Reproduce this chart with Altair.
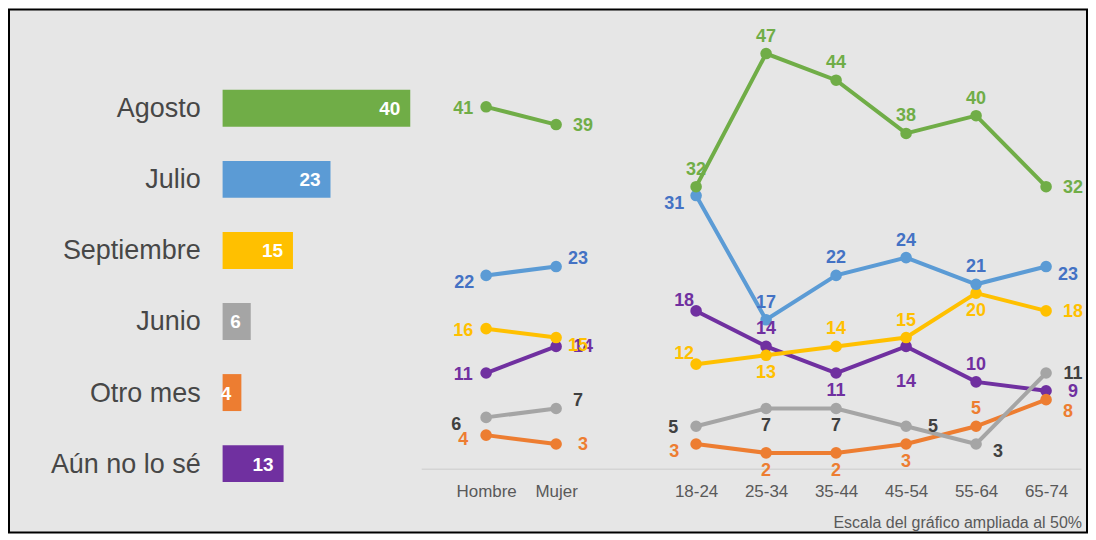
import altair as alt
import pandas as pd

# ---------------- data ----------------
series = ["Agosto", "Julio", "Septiembre", "Junio", "Otro mes", "Aún no lo sé"]
bar_values = [40, 23, 15, 6, 4, 13]

gender_cats = ["Hombre", "Mujer"]
age_cats = ["18-24", "25-34", "35-44", "45-54", "55-64", "65-74"]

gender_agosto = [41, 39]
gender_julio = [22, 23]
gender_septiembre = [16, 15]
gender_junio = [6, 7]
gender_otro = [4, 3]
gender_aun = [11, 14]

age_agosto = [32, 47, 44, 38, 40, 32]
age_julio = [31, 17, 22, 24, 21, 23]
age_septiembre = [12, 13, 14, 15, 20, 18]
age_junio = [5, 7, 7, 5, 3, 11]
age_otro = [3, 2, 2, 3, 5, 8]
age_aun = [18, 14, 11, 14, 10, 9]

footer = "Escala del gráfico ampliada al 50%"

# ---------------- styles / label placement ----------------
line_colors = ["#70AD47", "#5B9BD5", "#FFC000", "#A5A5A5", "#ED7D31", "#7030A0"]
label_colors = ["#70AD47", "#4472C4", "#FFC000", "#404040", "#ED7D31", "#7030A0"]

gender_place = [["L", "R"], ["LB", "RA"], ["L", "RB"], ["LB2", "RA"], ["L4", "R"], ["L", "R"]]
age_place = [
    ["A", "A", "A", "A", "A", "R"],
    ["LB", "A", "A", "A", "A", "RB"],
    ["LA", "B", "A", "A", "B", "R"],
    ["L", "B", "B", "R", "RB", "R"],
    ["LB", "B", "B", "B", "A", "RB2"],
    ["LA", "A", "B", "BB", "A", "R"],
]
offsets = {
    "L": (-23, 2), "L4": (-23, 5), "R": (27, 1), "A": (0, -17), "B": (0, 18), "BB": (0, 36),
    "LA": (-12, -10), "LB": (-22, 8), "LB2": (-30, 8), "RA": (22, -8), "RB": (22, 8),
    "RB2": (22, 12),
}

gender_vals = [gender_agosto, gender_julio, gender_septiembre, gender_junio, gender_otro, gender_aun]
age_vals = [age_agosto, age_julio, age_septiembre, age_junio, age_otro, age_aun]

x_domain = gender_cats + [" "] + age_cats

rows = []
for i, s in enumerate(series):
    for c, v, p in zip(gender_cats, gender_vals[i], gender_place[i]):
        rows.append(dict(series=s, cat=c, value=v, seg=s + "_g", pos=p, lc=label_colors[i]))
    for c, v, p in zip(age_cats, age_vals[i], age_place[i]):
        rows.append(dict(series=s, cat=c, value=v, seg=s + "_a", pos=p, lc=label_colors[i]))
lines_df = pd.DataFrame(rows)

bars_df = pd.DataFrame(dict(series=series, value=bar_values))

FONT = "Liberation Sans"

# ---------------- left bar chart ----------------
bx = alt.Scale(domain=[0, 40], range=[214, 402])
by = alt.Scale(domain=series, range=[63.4, 490.6], paddingInner=0.48, paddingOuter=0.24)
color_scale = alt.Scale(domain=series, range=line_colors)

bars = alt.Chart(bars_df).mark_bar().encode(
    x=alt.X("value:Q", scale=bx, axis=None),
    y=alt.Y("series:N", scale=by, axis=None, sort=series),
    color=alt.Color("series:N", scale=color_scale, legend=None),
)
bar_text = alt.Chart(bars_df).mark_text(
    align="right", baseline="middle", dx=-10, dy=1, color="white",
    font=FONT, fontSize=19, fontWeight="bold",
).encode(
    x=alt.X("value:Q", scale=bx, axis=None),
    y=alt.Y("series:N", scale=by, axis=None, sort=series),
    text="value:Q",
)
cat_text = alt.Chart(bars_df).mark_text(
    align="right", baseline="middle", dx=-22, dy=1, color="#474747",
    font=FONT, fontSize=27,
).encode(
    x=alt.datum(0, scale=bx, axis=None),
    y=alt.Y("series:N", scale=by, axis=None, sort=series),
    text="series:N",
)
bar_group = alt.layer(bars, bar_text, cat_text)

# ---------------- right line chart ----------------
lx = alt.Scale(type="point", domain=x_domain, range=[413, 1074], padding=0.713, align=0.65)
ly = alt.Scale(domain=[0, 50], range=[462, 17.5])
x_axis = alt.Axis(
    orient="bottom", offset=-64, title=None, ticks=False, grid=False,
    domainColor="#d4d4d4", domainWidth=1.5, labelColor="#595959", labelFont=FONT,
    labelFontSize=17, labelPadding=15, labelAngle=0,
)
xenc = alt.X("cat:N", scale=lx, axis=x_axis, sort=x_domain)
yenc = alt.Y("value:Q", scale=ly, axis=None)

base = alt.Chart(lines_df)
layers = []
for i in reversed(range(len(series))):
    s = series[i]
    sub = base.transform_filter(alt.datum.series == s)
    layers.append(
        sub.mark_line(strokeWidth=4, color=line_colors[i]).encode(
            x=xenc, y=yenc, detail="seg:N"
        )
    )
    layers.append(
        sub.mark_point(filled=True, size=135, opacity=1, color=line_colors[i]).encode(
            x=xenc, y=yenc
        )
    )

for code, (dx, dy) in offsets.items():
    layers.append(
        base.transform_filter(alt.datum.pos == code).mark_text(
            dx=dx, dy=dy, align="center", baseline="middle",
            font=FONT, fontSize=18, fontWeight="bold",
        ).encode(
            x=xenc,
            y=yenc,
            text="value:Q",
            color=alt.Color("lc:N", scale=None),
        )
    )

line_group = alt.layer(*layers)

footer_layer = alt.Chart(pd.DataFrame(dict(t=[footer]))).mark_text(
    align="right", baseline="middle", font=FONT, fontSize=16, color="#595959",
).encode(x=alt.value(1075), y=alt.value(514), text="t:N")

chart = (
    alt.layer(bar_group, line_group, footer_layer)
    .resolve_scale(x="independent", y="independent")
    .properties(
        width=1080, height=524,
        autosize=alt.AutoSizeParams(type="none"),
        padding={"left": 1, "top": 1, "right": 1, "bottom": 1},
        background="white",
    )
    .configure_view(stroke="black", strokeWidth=2, fill="#e6e6e6")
)

chart.save("out.html", embed_options={"renderer": "svg", "actions": False})
